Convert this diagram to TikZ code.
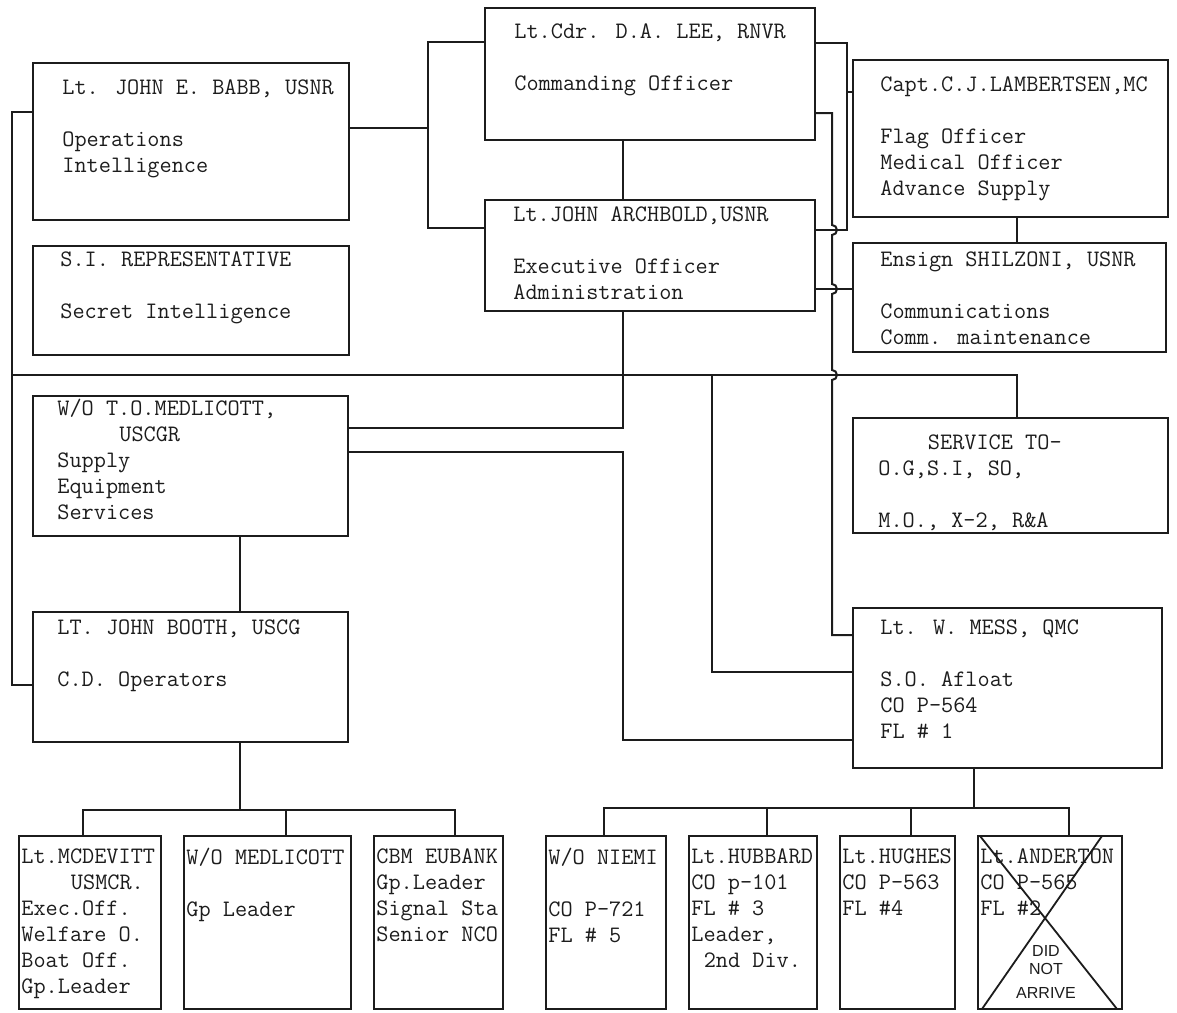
\documentclass[tikz,border=0pt]{standalone}
\usepackage{fontspec}
\newfontfamily\pencilhand{Liberation Sans}
\usepackage{xcolor}
\definecolor{inkBlack}{HTML}{1C1C1C}
\usepackage{tikz}
\usetikzlibrary{positioning}
\newcommand{\memofont}{\ttfamily\fontsize{11.8}{13}\selectfont}
\tikzset{
    % Typed box frame
    unit/.style={
        rectangle,
        draw=inkBlack,
        line width=1.3pt,
        inner sep=0pt,
        outer sep=0pt,
    },
    % Typed text, set from the top left corner of its box
    memo/.style={
        font=\memofont,
        text=inkBlack,
        align=left,
        inner sep=0pt,
    },
    % Plain connector
    link/.style={
        draw=inkBlack,
        line width=1pt,
    },
    % Pencil cross and note
    pencil/.style={
        draw=inkBlack,
        line width=0.9pt,
    },
    pencil note/.style={
        font=\pencilhand\fontsize{8}{9}\selectfont,
        text=inkBlack,
        align=center,
        inner sep=0pt,
    },
}

\begin{document}
\begin{tikzpicture}[x=0.5pt, y=-0.5pt]
    \useasboundingbox (0,0) rectangle (1177,1012);

    % staff boxes
    \node (lee) [unit, minimum width=165pt, minimum height=66pt] at (650,74) {};
    \node (babb) [unit, minimum width=158pt, minimum height=78.5pt] at (191,141.5) {};
    \node (si) [unit, minimum width=158pt, minimum height=54.5pt] at (191,300.5) {};
    \node (arch) [unit, minimum width=165pt, minimum height=55.5pt] at (650,255.5) {};
    \node (lamb) [unit, minimum width=157.5pt, minimum height=78.5pt] at (1010.5,138.5) {};
    \node (shil) [unit, minimum width=156.5pt, minimum height=54.5pt] at (1009.5,297.5) {};
    \node (medl) [unit, minimum width=157.5pt, minimum height=70pt] at (190.5,466) {};
    \node (serv) [unit, minimum width=157.5pt, minimum height=57.5pt] at (1010.5,475.5) {};
    \node (booth) [unit, minimum width=157.5pt, minimum height=65pt] at (190.5,677) {};
    \node (mess) [unit, minimum width=154.5pt, minimum height=80pt] at (1007.5,688) {};

    \node (lee-t) [memo, below right=7.6pt and 14.5pt of lee.north west] {Lt.Cdr. D.A. LEE, RNVR\\[13pt]Commanding Officer};
    \node (babb-t) [memo, below right=8.1pt and 14.5pt of babb.north west] {Lt. JOHN E. BABB, USNR\\[13pt]Operations\\Intelligence};
    \node (si-t) [memo, below right=2.6pt and 13.5pt of si.north west] {S.I. REPRESENTATIVE\\[13pt]Secret Intelligence};
    \node (arch-t) [memo, below right=3.1pt and 14pt of arch.north west] {Lt.JOHN ARCHBOLD,USNR\\[13pt]Executive Officer\\Administration};
    \node (lamb-t) [memo, below right=8.1pt and 13.5pt of lamb.north west] {Capt.C.J.LAMBERTSEN,MC\\[13pt]Flag Officer\\Medical Officer\\Advance Supply};
    \node (shil-t) [memo, below right=4.1pt and 13.5pt of shil.north west] {Ensign SHILZONI, USNR\\[13pt]Communications\\Comm. maintenance};
    \node (medl-t) [memo, below right=1.6pt and 12pt of medl.north west] {W/O T.O.MEDLICOTT,\\\hspace*{2.625em}USCGR\\Supply\\Equipment\\Services};
    \node (serv-t) [memo, below right=8.1pt and 12.5pt of serv.north west] {\hspace*{2.1em}SERVICE TO-\\O.G,S.I, SO,\\[13pt]M.O., X-2, R\&A};
    \node (booth-t) [memo, below right=3.6pt and 12pt of booth.north west] {LT. JOHN BOOTH, USCG\\[13pt]C.D. Operators};
    \node (mess-t) [memo, below right=5.6pt and 13.5pt of mess.north west] {Lt. W. MESS, QMC\\[13pt]S.O. Afloat\\CO P-564\\FL \# 1};

    % group leaders
    \node (mcdev) [unit, minimum width=71pt, minimum height=86.5pt] at (90,922.5) {};
    \node (medl2) [unit, minimum width=83.5pt, minimum height=86.5pt, right=11.5pt of mcdev] {};
    \node (eubank) [unit, minimum width=64.5pt, minimum height=86.5pt, right=11.5pt of medl2] {};
    \node (niemi) [unit, minimum width=60pt, minimum height=86.5pt] at (606,922.5) {};
    \node (hubbard) [unit, minimum width=64pt, minimum height=86.5pt, right=11.5pt of niemi] {};
    \node (hughes) [unit, minimum width=57.5pt, minimum height=86.5pt, right=11.5pt of hubbard] {};
    \node (anderton) [unit, minimum width=72pt, minimum height=86.5pt, right=11.5pt of hughes] {};

    \node (mcdev-t) [memo, below right=6.1pt and 1pt of mcdev.north west] {Lt.MCDEVITT\\\hspace*{2.1em}USMCR.\\Exec.Off.\\Welfare O.\\Boat Off.\\Gp.Leader};
    \node (medl2-t) [memo, below right=6.1pt and 1pt of medl2.north west] {W/O MEDLICOTT\\[13pt]Gp Leader};
    \node (eubank-t) [memo, below right=6.1pt and 1pt of eubank.north west] {CBM EUBANK\\Gp.Leader\\Signal Sta\\Senior NCO};
    \node (niemi-t) [memo, below right=6.1pt and 1pt of niemi.north west] {W/O NIEMI\\[13pt]CO P-721\\FL \# 5};
    \node (hubbard-t) [memo, below right=6.1pt and 1pt of hubbard.north west] {Lt.HUBBARD\\CO p-101\\FL \# 3\\Leader,\\\hspace*{0.525em}2nd Div.};
    \node (hughes-t) [memo, below right=6.1pt and 1pt of hughes.north west] {Lt.HUGHES\\CO P-563\\FL \#4};
    \node (anderton-t) [memo, below right=6.1pt and 1pt of anderton.north west] {Lt.ANDERTON\\CO P-565\\FL \#2};
    \node (nogo) [pencil note] at (1046,972) {DID\\NOT\\[3pt]ARRIVE};

    % CO and XO bracket towards operations
    \draw [link] (babb.east |- 0,128) -- (428,128);
    \draw [link] (lee.west |- 0,42) -| (428,228) -- (arch.west |- 0,228);
    % CO to XO, XO down to supply
    \draw [link] (lee.south -| 623,0) -- (arch.north -| 623,0);
    \draw [link] (arch.south -| 623,0) |- (medl.east |- 0,428);
    \draw [link] (medl.east |- 0,452) -| (623,740) -- (mess.west |- 0,740);
    % CO and XO to flag officer, XO to communications
    \draw [link] (lee.east |- 0,43) -| (847,230) -- (arch.east |- 0,230);
    \draw [link] (847,92) -- (lamb.west |- 0,92);
    \draw [link] (arch.east |- 0,289) -- (shil.west |- 0,289);
    \draw [link] (lamb.south -| 1017,0) -- (shil.north -| 1017,0);
    % CO down to S.O. afloat, hopping the crossings
    \draw [link] (lee.east |- 0,113) -| (832,225)
        arc[start angle=90, end angle=-90, radius=2.5pt] -- (832,284)
        arc[start angle=90, end angle=-90, radius=2.5pt] -- (832,370)
        arc[start angle=90, end angle=-90, radius=2.5pt] |- (mess.west |- 0,635);
    % service line
    \draw [link] (babb.west |- 0,112) -| (12,685) -- (booth.west |- 0,685);
    \draw [link] (12,375) -| (serv.north -| 1017,0);
    \draw [link] (712,375) |- (mess.west |- 0,672);
    \draw [link] (medl.south -| 240,0) -- (booth.north -| 240,0);

    % group leaders under C.D. operators
    \coordinate (cdbus) at (240,810);
    \draw [link] (booth.south -| cdbus) -- (cdbus);
    \draw [link] ([xshift=-3.5pt]mcdev.north) |- (cdbus) -| ([xshift=8.25pt]eubank.north);
    \draw [link] ([xshift=9.25pt]medl2.north) -- ([xshift=9.25pt]medl2.north |- cdbus);
    % flotilla under S.O. afloat
    \coordinate (flbus) at (974,808);
    \draw [link] (mess.south -| flbus) -- (flbus);
    \draw [link] ([xshift=-1pt]niemi.north) |- (flbus) -| ([xshift=9.5pt]anderton.north);
    \draw [link] ([xshift=7pt]hubbard.north) -- ([xshift=7pt]hubbard.north |- flbus);
    \draw [link] ([xshift=6.75pt]hughes.north) -- ([xshift=6.75pt]hughes.north |- flbus);

    % Anderton crossed out
    \draw [pencil] ([xshift=1pt]anderton.north west) -- ([xshift=-2.5pt]anderton.south east);
    \draw [pencil] ([xshift=-10pt]anderton.north east) -- ([xshift=2pt]anderton.south west);
\end{tikzpicture}
\end{document}
